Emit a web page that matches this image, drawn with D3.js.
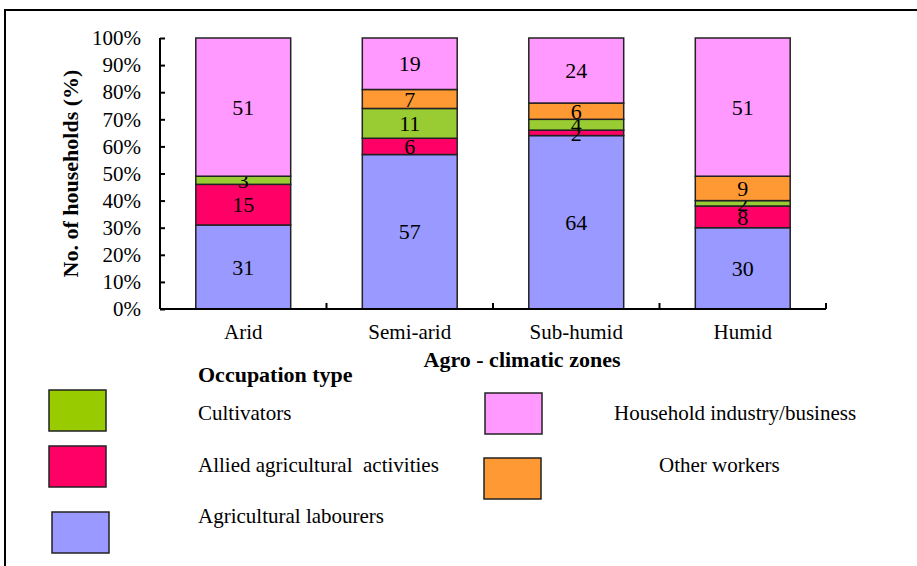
<!DOCTYPE html>
<html>
<head>
<meta charset="utf-8">
<script src="https://cdn.jsdelivr.net/npm/d3@7"></script>
<style>
  body { margin: 0; background: #fff; }
  svg { display: block; }
  svg text { font-family: "Liberation Serif", Tinos, "Times New Roman", Times, "DejaVu Serif", serif; }
</style>
</head>
<body>
<div id="chart"></div>
<script>
// zones along x axis
var zones = ["Arid", "Semi-arid", "Sub-humid", "Humid"];

// series, bottom to top of the stack
var labourers = [31, 57, 64, 30];
var allied = [15, 6, 2, 8];
var cultivators = [3, 11, 4, 2];
var otherWorkers = [0, 7, 6, 9];
var household = [51, 19, 24, 51];

var seriesNames = ["Agricultural labourers", "Allied agricultural  activities", "Cultivators", "Other workers", "Household industry/business"];
var seriesValues = [labourers, allied, cultivators, otherWorkers, household];
var seriesColors = ["#9999FF", "#FF0066", "#99CC33", "#FF9933", "#FF99FF"];

var yTicks = [0, 10, 20, 30, 40, 50, 60, 70, 80, 90, 100];

var W = 917, H = 566;
var margin = {left: 160, top: 38, right: 91, bottom: 257};

var svg = d3.select("#chart").append("svg")
  .attr("width", W)
  .attr("height", H);

// outer frame
svg.append("rect")
  .attr("x", 5).attr("y", 10)
  .attr("width", W + 10).attr("height", H + 10)
  .attr("fill", "none")
  .attr("stroke", "#000")
  .attr("stroke-width", 2);

var x = d3.scaleBand()
  .domain(zones)
  .range([margin.left, W - margin.right])
  .paddingInner(0.43)
  .paddingOuter(0.215);

var y = d3.scaleLinear()
  .domain([0, 100])
  .range([H - margin.bottom, margin.top]);

// build stacked rows
var rows = zones.map(function(z, i) {
  var r = {zone: z};
  seriesNames.forEach(function(s, k) { r[s] = seriesValues[k][i]; });
  return r;
});
var stack = d3.stack().keys(seriesNames)(rows);

var g = svg.append("g");

var layer = g.selectAll(".layer")
  .data(stack)
  .enter().append("g")
  .attr("class", "layer")
  .attr("fill", function(d, k) { return seriesColors[k]; });

layer.selectAll("rect")
  .data(function(d) { return d.filter(function(p) { return p[1] - p[0] > 0; }); })
  .enter().append("rect")
  .attr("x", function(d) { return x(d.data.zone); })
  .attr("width", x.bandwidth())
  .attr("y", function(d) { return y(d[1]); })
  .attr("height", function(d) { return y(d[0]) - y(d[1]); })
  .attr("stroke", "#222")
  .attr("stroke-width", 1.5);

// value labels
layer.selectAll("text")
  .data(function(d) { return d.filter(function(p) { return p[1] - p[0] > 0; }); })
  .enter().append("text")
  .attr("x", function(d) { return x(d.data.zone) + x.bandwidth() / 2; })
  .attr("y", function(d) { return y((d[0] + d[1]) / 2); })
  .attr("dy", "0.35em")
  .attr("text-anchor", "middle")
  .attr("fill", "#000")
  .style("font-size", "22px")
  .text(function(d) { return d[1] - d[0]; });

// y axis
var yAxis = d3.axisLeft(y)
  .tickValues(yTicks)
  .tickSize(-5)
  .tickPadding(19)
  .tickFormat(function(d) { return d + "%"; });

var ya = svg.append("g")
  .attr("transform", "translate(" + margin.left + ",0)")
  .call(yAxis);
ya.attr("font-family", null);
ya.select(".domain").attr("stroke", "#000").attr("stroke-width", 2)
  .attr("d", "M" + 0 + "," + y(100) + "V" + y(0));
ya.selectAll(".tick line").attr("stroke", "#000").attr("stroke-width", 2);
ya.selectAll(".tick text")
  .style("font-size", "21px")
  .attr("fill", "#000");

// x axis
var xAxis = d3.axisBottom(x).tickSize(0).tickPadding(15);
var xa = svg.append("g")
  .attr("transform", "translate(0," + y(0) + ")")
  .call(xAxis);
xa.attr("font-family", null);
xa.select(".domain").attr("stroke", "#000").attr("stroke-width", 2)
  .attr("d", "M" + margin.left + ",0H" + (W - margin.right));
xa.selectAll(".tick text")
  .style("font-size", "21px")
  .attr("fill", "#000");

// category boundary ticks (inside)
var step = x.step();
var bounds = zones.map(function(z) { return x(z) - (step - x.bandwidth()) / 2 + step; });
xa.selectAll(".bound")
  .data(bounds)
  .enter().append("line")
  .attr("x1", function(d) { return d; })
  .attr("x2", function(d) { return d; })
  .attr("y1", 0).attr("y2", -6)
  .attr("stroke", "#000")
  .attr("stroke-width", 2);

// axis titles
svg.append("text")
  .attr("transform", "translate(78," + (y(50)) + ") rotate(-90)")
  .attr("text-anchor", "middle")
  .style("font-size", "22px")
  .style("font-weight", "bold")
  .text("No. of households (%)");

svg.append("text")
  .attr("x", 522).attr("y", 367)
  .attr("text-anchor", "middle")
  .style("font-size", "22px")
  .style("font-weight", "bold")
  .text("Agro - climatic zones");

// legend
svg.append("text")
  .attr("x", 198).attr("y", 382)
  .style("font-size", "22px")
  .style("font-weight", "bold")
  .text("Occupation type");

var legendItems = [
  {k: 2, bx: 49, by: 390, tx: 198, ty: 420},
  {k: 1, bx: 49, by: 446, tx: 198, ty: 472},
  {k: 0, bx: 52, by: 512, tx: 198, ty: 523},
  {k: 4, bx: 485, by: 393, tx: 614, ty: 420},
  {k: 3, bx: 484, by: 458, tx: 659, ty: 472}
];

var leg = svg.selectAll(".leg")
  .data(legendItems)
  .enter().append("g")
  .attr("class", "leg");

leg.append("rect")
  .attr("x", function(d) { return d.bx; })
  .attr("y", function(d) { return d.by; })
  .attr("width", 57)
  .attr("height", 41)
  .attr("fill", function(d) { return d.k == 2 ? "#99CC00" : seriesColors[d.k]; })
  .attr("stroke", "#222")
  .attr("stroke-width", 1.5);

leg.append("text")
  .attr("x", function(d) { return d.tx; })
  .attr("y", function(d) { return d.ty; })
  .style("font-size", "21px")
  .style("white-space", "pre")
  .text(function(d) { return seriesNames[d.k]; });
</script>
</body>
</html>
